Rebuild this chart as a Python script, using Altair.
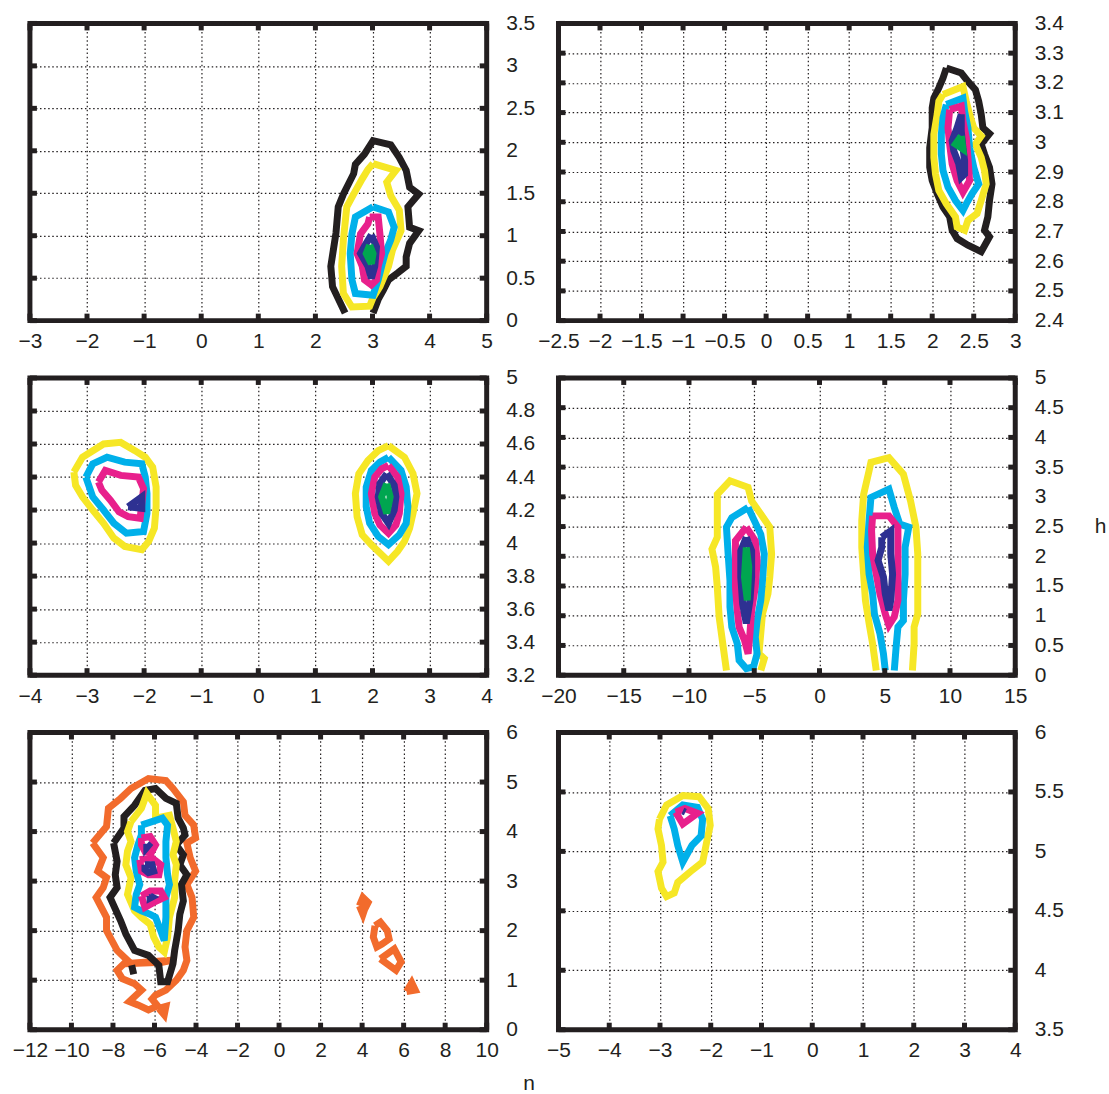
import altair as alt
import pandas as pd

INK = "#231f20"
FONT = "Liberation Sans"
W, H = 458, 298
TICK_LEN = 7
LINE_W = 7

COLORS = {
    "orange": "#f26b2c",
    "black": "#231f20",
    "yellow": "#f6e726",
    "cyan": "#00b0ea",
    "magenta": "#e8208c",
    "navy": "#2e3192",
    "green": "#00a650",
}
DRAW_ORDER = ["orange", "black", "yellow", "cyan", "magenta", "navy", "green"]

# ---------------- panel 1 ----------------
P1_XDOM, P1_YDOM = [-3, 5], [0, 3.5]
P1_XTICKS = [-3, -2, -1, 0, 1, 2, 3, 4, 5]
P1_YTICKS = [0, 0.5, 1, 1.5, 2, 2.5, 3, 3.5]
P1_BLACK = [(2.52, 0.09), (2.30, 0.40), (2.27, 0.64), (2.36, 1.03), (2.40, 1.34), (2.49, 1.49),
            (2.67, 1.73), (2.70, 1.84), (2.86, 1.96), (3.01, 2.12), (3.32, 2.07), (3.47, 1.92),
            (3.59, 1.77), (3.65, 1.57), (3.81, 1.49), (3.62, 1.34), (3.65, 1.10), (3.81, 1.06),
            (3.65, 0.91), (3.59, 0.75), (3.59, 0.64), (3.44, 0.56), (3.28, 0.48), (3.19, 0.36),
            (3.10, 0.25), (3.01, 0.09)]
P1_YELLOW = [(3.01, 1.85), (3.41, 1.77), (3.25, 1.63), (3.32, 1.47), (3.47, 1.30), (3.50, 1.06),
             (3.35, 0.83), (3.28, 0.64), (3.13, 0.40), (3.01, 0.27), (2.95, 0.17), (2.64, 0.16),
             (2.49, 0.32), (2.46, 0.64), (2.49, 0.95), (2.55, 1.34), (2.67, 1.49), (2.82, 1.67),
             (2.92, 1.78)]
P1_CYAN = [(3.01, 1.34), (3.28, 1.28), (3.38, 1.10), (3.32, 0.95), (3.22, 0.79), (3.16, 0.64),
           (3.10, 0.48), (3.01, 0.30), (2.70, 0.32), (2.64, 0.48), (2.61, 0.79), (2.64, 1.02),
           (2.70, 1.22)]
P1_MAGENTA = [(2.95, 1.22), (3.10, 1.22), (3.13, 1.02), (3.16, 0.79), (3.10, 0.64), (3.07, 0.48),
              (2.98, 0.42), (2.86, 0.48), (2.82, 0.64), (2.73, 0.79), (2.79, 1.02), (2.92, 1.14)]
P1_NAVY = [(2.98, 1.01), (3.07, 0.87), (3.04, 0.64), (2.98, 0.50), (2.92, 0.64), (2.79, 0.79),
           (2.89, 0.91)]
P1_GREEN = [(2.95, 0.89), (3.01, 0.79), (2.98, 0.67), (2.89, 0.79)]

# ---------------- panel 2 ----------------
P2_XDOM, P2_YDOM = [-2.5, 3], [2.4, 3.4]
P2_XTICKS = [-2.5, -2, -1.5, -1, -0.5, 0, 0.5, 1, 1.5, 2, 2.5, 3]
P2_YTICKS = [2.4, 2.5, 2.6, 2.7, 2.8, 2.9, 3, 3.1, 3.2, 3.3, 3.4]
P2_BLACK = [(2.17, 3.25), (2.35, 3.233), (2.43, 3.205), (2.52, 3.177), (2.56, 3.138), (2.59, 3.094),
            (2.61, 3.049), (2.69, 3.029), (2.59, 2.994), (2.63, 2.960), (2.69, 2.916), (2.72, 2.860),
            (2.69, 2.804), (2.67, 2.749), (2.63, 2.704), (2.69, 2.682), (2.59, 2.632), (2.43, 2.654),
            (2.30, 2.676), (2.24, 2.704), (2.21, 2.749), (2.13, 2.782), (2.06, 2.827), (2.00, 2.871),
            (1.97, 2.916), (1.97, 2.982), (2.00, 3.049), (2.00, 3.116), (2.02, 3.149), (2.08, 3.183),
            (2.13, 3.216)]
P2_YELLOW = [(2.13, 3.161), (2.37, 3.188), (2.41, 3.138), (2.45, 3.094), (2.50, 3.049), (2.59, 3.021),
             (2.52, 2.994), (2.59, 2.949), (2.63, 2.905), (2.65, 2.860), (2.59, 2.804), (2.54, 2.760),
             (2.43, 2.737), (2.39, 2.704), (2.30, 2.715), (2.28, 2.749), (2.17, 2.793), (2.08, 2.838),
             (2.04, 2.893), (2.02, 2.949), (2.02, 3.027), (2.06, 3.094), (2.08, 3.138)]
P2_CYAN = [(2.17, 3.127), (2.37, 3.149), (2.39, 3.105), (2.43, 3.049), (2.45, 2.982), (2.50, 2.916),
           (2.56, 2.860), (2.48, 2.827), (2.41, 2.793), (2.37, 2.771), (2.28, 2.804), (2.19, 2.849),
           (2.13, 2.905), (2.11, 2.960), (2.11, 3.027), (2.13, 3.083)]
P2_MAGENTA = [(2.21, 3.110), (2.35, 3.122), (2.37, 3.072), (2.41, 3.016), (2.43, 2.949), (2.45, 2.871),
              (2.37, 2.832), (2.30, 2.871), (2.24, 2.927), (2.21, 2.994), (2.19, 3.049)]
P2_NAVY = [(2.35, 3.094), (2.35, 3.038), (2.37, 2.982), (2.39, 2.938), (2.39, 2.893), (2.35, 2.882),
           (2.32, 2.927), (2.26, 2.971), (2.24, 3.005), (2.30, 3.049)]
P2_GREEN = [(2.35, 3.021), (2.37, 2.977), (2.28, 2.994)]

# ---------------- panel 3 ----------------
P3_XDOM, P3_YDOM = [-4, 4], [3.2, 5]
P3_XTICKS = [-4, -3, -2, -1, 0, 1, 2, 3, 4]
P3_YTICKS = [3.2, 3.4, 3.6, 3.8, 4, 4.2, 4.4, 4.6, 4.8, 5]
P3_YELLOW_A = [(-3.23, 4.43), (-3.08, 4.52), (-2.71, 4.60), (-2.41, 4.61), (-2.16, 4.56), (-1.98, 4.52),
               (-1.85, 4.46), (-1.79, 4.34), (-1.79, 4.22), (-1.82, 4.09), (-1.92, 4.01), (-2.04, 3.96),
               (-2.34, 3.98), (-2.53, 4.03), (-2.71, 4.12), (-2.90, 4.20), (-3.08, 4.28), (-3.20, 4.35)]
P3_CYAN_A = [(-3.02, 4.40), (-2.90, 4.48), (-2.65, 4.52), (-2.34, 4.49), (-2.04, 4.48), (-1.98, 4.40),
             (-1.95, 4.30), (-1.95, 4.18), (-2.01, 4.07), (-2.31, 4.06), (-2.53, 4.12), (-2.71, 4.20),
             (-2.90, 4.28)]
P3_MAGENTA_A = [(-2.80, 4.37), (-2.68, 4.44), (-2.41, 4.41), (-2.10, 4.40), (-2.01, 4.33), (-2.04, 4.24),
                (-2.07, 4.15), (-2.28, 4.16), (-2.44, 4.19), (-2.59, 4.26), (-2.74, 4.32)]
P3_NAVY_A = [(-2.28, 4.22), (-2.04, 4.28), (-2.04, 4.21)]
P3_YELLOW_B = [(2.28, 4.59), (2.56, 4.52), (2.71, 4.42), (2.78, 4.30), (2.71, 4.18), (2.65, 4.09),
               (2.56, 4.01), (2.44, 3.95), (2.28, 3.89), (2.13, 3.94), (1.98, 3.99), (1.82, 4.05),
               (1.73, 4.16), (1.70, 4.30), (1.76, 4.42), (1.92, 4.50), (2.10, 4.56)]
P3_CYAN_B = [(2.28, 4.52), (2.50, 4.44), (2.59, 4.34), (2.62, 4.22), (2.59, 4.12), (2.47, 4.05),
             (2.28, 3.99), (2.10, 4.04), (1.95, 4.12), (1.89, 4.22), (1.89, 4.34), (1.98, 4.44),
             (2.13, 4.49)]
P3_MAGENTA_B = [(2.28, 4.47), (2.44, 4.40), (2.50, 4.30), (2.47, 4.18), (2.41, 4.11), (2.28, 4.06),
                (2.13, 4.11), (2.04, 4.18), (1.98, 4.30), (2.04, 4.40), (2.16, 4.45)]
P3_NAVY_B = [(2.25, 4.42), (2.38, 4.35), (2.41, 4.28), (2.38, 4.20), (2.28, 4.12), (2.16, 4.18),
             (2.10, 4.28), (2.13, 4.36)]
P3_GREEN_B = [(2.25, 4.36), (2.31, 4.28), (2.25, 4.18), (2.16, 4.28)]

# ---------------- panel 4 ----------------
P4_XDOM, P4_YDOM = [-20, 15], [0, 5]
P4_XTICKS = [-20, -15, -10, -5, 0, 5, 10, 15]
P4_YTICKS = [0, 0.5, 1, 1.5, 2, 2.5, 3, 3.5, 4, 4.5, 5]
P4_YELLOW_A = [(-7.13, 0.08), (-7.41, 0.53), (-7.69, 0.98), (-7.83, 1.48), (-7.96, 1.82), (-8.24, 2.12),
               (-7.83, 2.32), (-7.83, 2.71), (-7.83, 3.04), (-6.86, 3.27), (-5.47, 3.16), (-5.20, 2.93),
               (-4.50, 2.71), (-3.81, 2.49), (-3.67, 2.04), (-3.81, 1.65), (-3.95, 1.37), (-4.37, 1.03),
               (-4.50, 0.70), (-4.64, 0.36), (-4.23, 0.28), (-4.50, 0.08)]
P4_CYAN_A = [(-5.47, 2.82), (-4.50, 2.37), (-4.23, 2.04), (-4.37, 1.59), (-4.50, 1.26), (-4.78, 0.92),
             (-4.92, 0.64), (-4.78, 0.36), (-5.06, 0.14), (-5.61, 0.11), (-6.16, 0.25), (-6.30, 0.53),
             (-6.72, 0.81), (-6.86, 1.15), (-6.86, 1.59), (-7.00, 2.04), (-7.13, 2.49), (-6.72, 2.65)]
P4_MAGENTA_A = [(-5.61, 2.49), (-4.92, 2.26), (-4.78, 1.93), (-4.92, 1.48), (-5.20, 1.09), (-5.33, 0.70),
                (-5.47, 0.36), (-5.75, 0.59), (-6.16, 0.81), (-6.30, 1.09), (-6.44, 1.48), (-6.44, 1.93),
                (-6.44, 2.26)]
P4_NAVY_A = [(-5.61, 2.32), (-5.20, 2.09), (-5.20, 1.65), (-5.33, 1.26), (-5.61, 0.87), (-5.89, 1.20),
             (-6.03, 1.65), (-6.03, 2.09)]
P4_GREEN_A = [(-5.61, 2.15), (-5.42, 1.82), (-5.53, 1.26), (-5.75, 1.65)]
P4_YELLOW_B = [(4.35, 0.08), (4.07, 0.53), (3.80, 0.87), (3.52, 1.26), (3.38, 1.70), (3.24, 2.15),
               (3.24, 2.60), (3.38, 3.04), (3.80, 3.44), (3.94, 3.58), (5.32, 3.66), (6.43, 3.38),
               (6.98, 2.93), (7.39, 2.49), (7.53, 2.04), (7.53, 1.48), (7.53, 1.03), (7.25, 0.81),
               (7.25, 0.53), (7.12, 0.08)]
P4_CYAN_B = [(5.04, 0.08), (4.90, 0.36), (4.63, 0.70), (4.21, 1.03), (4.07, 1.37), (3.80, 1.70),
             (3.66, 2.15), (3.80, 2.60), (3.94, 2.99), (5.32, 3.13), (5.73, 2.82), (6.15, 2.54),
             (6.84, 2.49), (6.56, 2.15), (6.56, 1.70), (6.43, 1.26), (6.43, 0.92), (6.01, 0.81),
             (5.87, 0.47), (5.73, 0.08)]
P4_MAGENTA_B = [(4.07, 2.68), (5.32, 2.68), (6.01, 2.49), (6.01, 2.15), (6.01, 1.70), (6.01, 1.26),
                (5.73, 0.98), (5.32, 0.84), (5.04, 1.03), (4.63, 1.37), (4.35, 1.70), (4.07, 2.04),
                (3.99, 2.43)]
P4_NAVY_B = [(4.77, 2.32), (5.46, 2.43), (5.46, 2.04), (5.60, 1.70), (5.46, 1.26), (5.32, 1.09),
             (5.04, 1.37), (4.90, 1.65), (4.49, 1.93), (4.77, 2.15)]

# ---------------- panel 5 ----------------
P5_XDOM, P5_YDOM = [-12, 10], [0, 6]
P5_XTICKS = [-12, -10, -8, -6, -4, -2, 0, 2, 4, 6, 8, 10]
P5_YTICKS = [0, 1, 2, 3, 4, 5, 6]
P5_ORANGE_MAIN = [(-8.98, 3.77), (-8.31, 4.10), (-8.22, 4.47), (-7.63, 4.67), (-7.13, 4.87), (-6.29, 5.07),
                  (-5.45, 5.03), (-5.11, 4.87), (-4.61, 4.60), (-4.53, 4.33), (-4.11, 4.13), (-4.02, 3.87),
                  (-4.44, 3.77), (-4.28, 3.47), (-4.02, 3.20), (-4.44, 2.93), (-4.19, 2.67), (-4.11, 2.27),
                  (-4.44, 2.00), (-4.53, 1.67), (-4.44, 1.40), (-4.61, 1.20), (-4.95, 1.00), (-5.45, 0.80),
                  (-5.95, 0.70), (-6.12, 0.62), (-5.85, 0.48), (-6.29, 0.40), (-6.80, 0.50), (-7.21, 0.57),
                  (-6.62, 0.80), (-6.96, 0.93), (-7.55, 1.03), (-7.80, 1.20), (-7.30, 1.40), (-7.80, 1.60),
                  (-8.31, 2.00), (-8.31, 2.27), (-8.81, 2.67), (-8.47, 2.87), (-8.31, 3.07), (-8.73, 3.20),
                  (-8.47, 3.47)]
P5_ORANGE_WEDGE = [(-7.46, 1.33), (-5.03, 1.41), (-5.62, 1.36)]
P5_ORANGE_TAIL = [(-5.79, 0.43), (-5.45, 0.47), (-5.53, 0.30)]
P5_ORANGE_ISLE_1 = [(3.87, 2.50), (4.04, 2.67), (4.29, 2.57), (4.12, 2.43), (4.04, 2.33)]
P5_ORANGE_ISLE_2 = [(4.62, 2.10), (4.88, 2.17), (5.21, 2.00), (5.30, 1.83), (4.96, 1.73), (4.71, 1.67),
                    (4.54, 1.87)]
P5_ORANGE_ISLE_3 = [(4.88, 1.43), (5.55, 1.63), (5.88, 1.37), (5.63, 1.20)]
P5_ORANGE_ISLE_4 = [(6.14, 0.77), (6.39, 0.95), (6.56, 0.80)]
P5_BLACK_MAIN = [(-7.97, 3.77), (-7.47, 4.07), (-7.47, 4.30), (-6.96, 4.53), (-6.46, 4.83), (-5.95, 4.87),
                 (-5.45, 4.67), (-4.95, 4.57), (-4.86, 4.27), (-4.61, 4.07), (-4.53, 3.93), (-4.95, 3.73),
                 (-4.61, 3.53), (-4.78, 3.33), (-4.44, 3.13), (-4.70, 2.93), (-4.61, 2.60), (-4.78, 2.33),
                 (-4.86, 2.00), (-5.03, 1.60), (-5.11, 1.33), (-5.37, 0.97), (-5.70, 0.97), (-5.79, 1.30),
                 (-6.29, 1.50), (-6.96, 1.60), (-7.38, 1.93), (-7.63, 2.20), (-8.14, 2.67), (-7.80, 2.87),
                 (-7.89, 3.13), (-7.80, 3.40)]
P5_BLACK_BIT = [(-7.10, 1.30), (-7.00, 1.12)]
P5_YELLOW = [(-7.13, 4.20), (-6.63, 4.47), (-6.37, 4.77), (-5.95, 4.53), (-5.95, 4.27), (-5.28, 4.33),
             (-5.11, 4.07), (-4.95, 3.80), (-5.11, 3.53), (-4.95, 3.33), (-5.03, 3.00), (-5.03, 2.67),
             (-5.28, 2.27), (-5.37, 1.87), (-5.53, 1.57), (-5.79, 1.67), (-6.04, 1.87), (-6.21, 2.13),
             (-6.63, 2.27), (-6.96, 2.40), (-7.30, 2.73), (-7.13, 3.07), (-7.38, 3.33), (-7.30, 3.60),
             (-7.13, 3.80), (-7.30, 4.00)]
P5_CYAN = [(-6.63, 4.13), (-6.12, 4.20), (-5.62, 4.27), (-5.37, 4.13), (-5.45, 3.80), (-5.45, 3.47),
           (-5.37, 3.13), (-5.28, 2.93), (-5.45, 2.67), (-5.45, 2.27), (-5.53, 1.80), (-5.70, 2.00),
           (-5.95, 2.27), (-6.21, 2.33), (-6.63, 2.40), (-6.96, 2.47), (-6.88, 2.73), (-6.71, 2.93),
           (-6.88, 3.20), (-6.96, 3.47), (-6.80, 3.73), (-6.63, 3.93)]
P5_MAGENTA_TOP = [(-6.63, 3.87), (-6.21, 3.90), (-5.95, 3.73), (-6.12, 3.60), (-6.46, 3.60), (-6.63, 3.73)]
P5_MAGENTA_MID = [(-6.71, 3.43), (-6.12, 3.47), (-5.70, 3.33), (-5.79, 3.13), (-6.29, 3.13), (-6.63, 3.20)]
P5_MAGENTA_LOW = [(-6.63, 2.70), (-6.21, 2.80), (-5.70, 2.80), (-5.53, 2.67), (-6.04, 2.57), (-6.46, 2.47)]
P5_NAVY_TOP = [(-6.37, 3.75), (-6.29, 3.72), (-6.37, 3.68)]
P5_NAVY_MID = [(-6.46, 3.33), (-6.12, 3.33), (-6.04, 3.20), (-6.29, 3.17), (-6.46, 3.23)]
P5_NAVY_LOW = [(-6.21, 2.70), (-6.12, 2.68), (-6.21, 2.66)]

# ---------------- panel 6 ----------------
P6_XDOM, P6_YDOM = [-5, 4], [3.5, 6]
P6_XTICKS = [-5, -4, -3, -2, -1, 0, 1, 2, 3, 4]
P6_YTICKS = [3.5, 4, 4.5, 5, 5.5, 6]
P6_YELLOW = [(-3.01, 5.27), (-2.87, 5.39), (-2.55, 5.47), (-2.23, 5.46), (-2.05, 5.36), (-2.01, 5.22),
             (-2.08, 5.08), (-2.16, 4.91), (-2.40, 4.83), (-2.65, 4.74), (-2.72, 4.65), (-2.87, 4.62),
             (-2.97, 4.69), (-3.04, 4.83), (-2.94, 4.91), (-2.97, 5.05), (-3.04, 5.19)]
P6_CYAN = [(-2.80, 5.30), (-2.55, 5.39), (-2.26, 5.37), (-2.16, 5.27), (-2.19, 5.13), (-2.37, 5.05),
           (-2.55, 4.91), (-2.65, 5.05), (-2.72, 5.19)]
P6_MAGENTA = [(-2.69, 5.33), (-2.51, 5.36), (-2.26, 5.32), (-2.55, 5.23)]
P6_NAVY = [(-2.55, 5.34), (-2.50, 5.33)]


def ring(points):
    """Close a contour by returning to its first vertex."""
    return list(points) + [points[0]]


def paths_frame(paths):
    rows = []
    for k, pts in enumerate(paths):
        for i, (x, y) in enumerate(pts):
            rows.append({"x": x, "y": y, "seg": k, "i": i})
    return pd.DataFrame(rows)


LABEL_EXPR = "replace(format(datum.value, '~g'), '-', '\u2212')"
GRID_STYLE = dict(grid=True, gridDash=[1.5, 2.6], gridColor=INK, gridWidth=1.2, gridOpacity=1)
LABEL_STYLE = dict(labelFont=FONT, labelFontSize=21, labelColor=INK, labelOverlap=False,
                   labelFlush=False, labelBound=False, labelExpr=LABEL_EXPR)
TITLE_STYLE = dict(titleFont=FONT, titleFontSize=21, titleFontWeight="normal", titleColor=INK,
                   titleAlign="center", titleBaseline="alphabetic")


def panel(xdom, ydom, xticks, yticks, levels, xtitle=None, ytitle=None):
    xaxis_kw = dict(orient="bottom", values=xticks, domain=False, ticks=False, tickSize=0,
                    labelPadding=10, **GRID_STYLE, **LABEL_STYLE)
    yaxis_kw = dict(orient="right", values=yticks, domain=False, ticks=False, tickSize=0,
                    labelPadding=19, labelAlign="left", labelBaseline="middle",
                    **GRID_STYLE, **LABEL_STYLE)
    if xtitle:
        # figure-wide horizontal label, centred under the whole grid of panels
        xaxis_kw.update(titleX=500, titleY=60, **TITLE_STYLE)
    if ytitle:
        # figure-wide vertical label, at the right of the grid
        yaxis_kw.update(titleX=85, titleY=155, titleAngle=0, **TITLE_STYLE)

    X = alt.X("x:Q", scale=alt.Scale(domain=xdom, nice=False, zero=False),
              axis=alt.Axis(**xaxis_kw), title=xtitle)
    Y = alt.Y("y:Q", scale=alt.Scale(domain=ydom, nice=False, zero=False),
              axis=alt.Axis(**yaxis_kw), title=ytitle)

    layers = []
    for lvl in DRAW_ORDER:
        if lvl not in levels:
            continue
        df = paths_frame(levels[lvl])
        layers.append(
            alt.Chart(df).mark_line(
                color=COLORS[lvl], strokeWidth=LINE_W, strokeJoin="miter",
                strokeMiterLimit=3, clip=True,
            ).encode(x=X, y=Y, detail="seg:N", order="i:Q")
        )

    # inward tick marks on all four sides of the frame
    xt = alt.Chart(pd.DataFrame({"x": xticks})).mark_rule(color=INK, strokeWidth=5, strokeCap="butt")
    yt = alt.Chart(pd.DataFrame({"y": yticks})).mark_rule(color=INK, strokeWidth=5, strokeCap="butt")
    layers += [
        xt.encode(x=X, y=alt.value(0), y2=alt.value(TICK_LEN)),
        xt.encode(x=X, y=alt.value(H), y2=alt.value(H - TICK_LEN)),
        yt.encode(y=Y, x=alt.value(0), x2=alt.value(TICK_LEN)),
        yt.encode(y=Y, x=alt.value(W), x2=alt.value(W - TICK_LEN)),
    ]
    return alt.layer(*layers).properties(width=W, height=H)


p1 = panel(P1_XDOM, P1_YDOM, P1_XTICKS, P1_YTICKS, {
    "black": [P1_BLACK],
    "yellow": [ring(P1_YELLOW)],
    "cyan": [ring(P1_CYAN)],
    "magenta": [ring(P1_MAGENTA)],
    "navy": [ring(P1_NAVY)],
    "green": [ring(P1_GREEN)],
})
p2 = panel(P2_XDOM, P2_YDOM, P2_XTICKS, P2_YTICKS, {
    "black": [ring(P2_BLACK)],
    "yellow": [ring(P2_YELLOW)],
    "cyan": [ring(P2_CYAN)],
    "magenta": [ring(P2_MAGENTA)],
    "navy": [ring(P2_NAVY)],
    "green": [ring(P2_GREEN)],
})
p3 = panel(P3_XDOM, P3_YDOM, P3_XTICKS, P3_YTICKS, {
    "yellow": [ring(P3_YELLOW_A), ring(P3_YELLOW_B)],
    "cyan": [ring(P3_CYAN_A), ring(P3_CYAN_B)],
    "magenta": [ring(P3_MAGENTA_A), ring(P3_MAGENTA_B)],
    "navy": [ring(P3_NAVY_A), ring(P3_NAVY_B)],
    "green": [ring(P3_GREEN_B)],
})
p4 = panel(P4_XDOM, P4_YDOM, P4_XTICKS, P4_YTICKS, {
    "yellow": [P4_YELLOW_A, P4_YELLOW_B],
    "cyan": [ring(P4_CYAN_A), P4_CYAN_B],
    "magenta": [ring(P4_MAGENTA_A), ring(P4_MAGENTA_B)],
    "navy": [ring(P4_NAVY_A), ring(P4_NAVY_B)],
    "green": [ring(P4_GREEN_A)],
}, ytitle="h")
p5 = panel(P5_XDOM, P5_YDOM, P5_XTICKS, P5_YTICKS, {
    "orange": [ring(P5_ORANGE_MAIN), ring(P5_ORANGE_WEDGE), ring(P5_ORANGE_TAIL),
               ring(P5_ORANGE_ISLE_1), ring(P5_ORANGE_ISLE_2), ring(P5_ORANGE_ISLE_3),
               ring(P5_ORANGE_ISLE_4)],
    "black": [ring(P5_BLACK_MAIN), P5_BLACK_BIT],
    "yellow": [ring(P5_YELLOW)],
    "cyan": [ring(P5_CYAN)],
    "magenta": [ring(P5_MAGENTA_TOP), ring(P5_MAGENTA_MID), ring(P5_MAGENTA_LOW)],
    "navy": [ring(P5_NAVY_TOP), ring(P5_NAVY_MID), ring(P5_NAVY_LOW)],
}, xtitle="n")
p6 = panel(P6_XDOM, P6_YDOM, P6_XTICKS, P6_YTICKS, {
    "yellow": [ring(P6_YELLOW)],
    "cyan": [ring(P6_CYAN)],
    "magenta": [ring(P6_MAGENTA)],
    "navy": [ring(P6_NAVY)],
})

chart = alt.concat(
    p1, p2, p3, p4, p5, p6,
    columns=2,
    spacing={"row": 57.5, "column": 72},
    bounds="flush",
).properties(
    padding={"left": 9, "top": 8, "right": 0, "bottom": 4},
).configure_view(
    stroke=INK, strokeWidth=5,
)

chart.save("out.html", embed_options={"renderer": "svg", "actions": False})
